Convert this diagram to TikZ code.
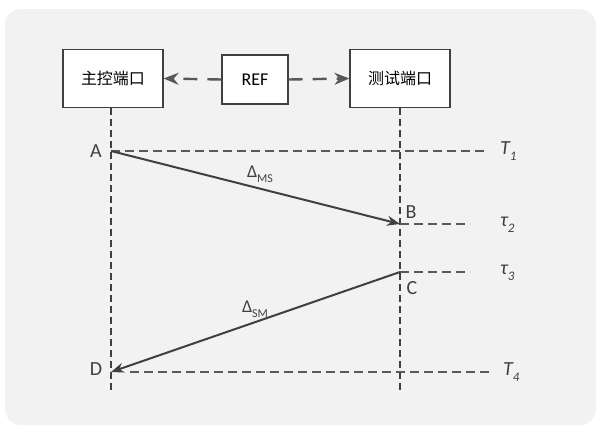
\documentclass[tikz,border=0pt]{standalone}
\usepackage{fontspec}
\setmainfont{Carlito}
\newfontfamily\cjk{Noto Sans CJK SC}
\usetikzlibrary{arrows.meta}
\definecolor{panel}{HTML}{F2F2F2}
\definecolor{ink}{HTML}{404040}
\definecolor{guide}{HTML}{595959}
% subscript set a little larger than the default
\newcommand{\lowidx}[2][13]{\raisebox{-0.28em}{\fontsize{#1}{#1}\selectfont #2}}
\tikzset{
  port/.style={draw=ink, line width=1.2pt, fill=white, minimum width=100pt, minimum height=58pt, inner sep=0pt, font=\cjk\fontsize{16}{16}\selectfont},
  refbox/.style={draw=ink, line width=1.2pt, fill=white, minimum width=66pt, minimum height=49pt, inner sep=0pt, font=\fontsize{18}{18}\selectfont},
  lifeline/.style={draw=ink, line width=1.2pt, dash pattern=on 7pt off 4pt},
  level/.style={draw=guide, line width=1.3pt, dash pattern=on 9pt off 5pt},
  msg/.style={draw=ink, line width=2pt, -{Stealth[length=13pt, width=10pt]}},
  refarrow/.style={draw=guide, line width=2.4pt, dash pattern=on 14pt off 10pt, -{Stealth[length=15pt, width=12pt]}},
  pt/.style={font=\fontsize{20}{20}\selectfont, text=ink, inner sep=0pt},
  tlabel/.style={font=\itshape\fontsize{20}{20}\selectfont, text=ink, inner sep=0pt, anchor=west},
  dlabel/.style={font=\fontsize{18}{18}\selectfont, text=ink, inner sep=0pt}
}
\begin{document}
\begin{tikzpicture}[x=1pt, y=-1pt]
  \useasboundingbox (0,0) rectangle (598,429);
  \fill[panel, rounded corners=16pt] (5,9) rectangle (596,425);

  % ports and the reference
  \node[port] (master) at (113,78.5) {主控端口};
  \node[port] (tester) at (400,78.5) {测试端口};
  \node[refbox] (ref) at (255,79.5) {REF};
  \draw[refarrow] (ref.west) -- (master.east);
  \draw[refarrow] (ref.east) -- (tester.west);

  % event points on the lifelines
  \coordinate (A) at (111,151);
  \coordinate (B) at (400,224);
  \coordinate (C) at (400,272);
  \coordinate (D) at (111,372);
  \coordinate (mEnd) at (111,392);
  \coordinate (tEnd) at (400,392);

  % lifelines
  \draw[lifeline] (master.south -| A) -- (mEnd);
  \draw[lifeline] (tester.south) -- (tEnd);

  % time levels
  \coordinate (T1e) at (487,151);
  \coordinate (T2e) at (470,224);
  \coordinate (T3e) at (470,272);
  \coordinate (T4s) at (130,372);
  \coordinate (T4e) at (490,372);
  \draw[level] (A) -- (T1e);
  \draw[level] (B) -- (T2e);
  \draw[level] (C) -- (T3e);
  \draw[level] (T4s) -- (T4e);

  % messages
  \draw[msg] (A) -- (B);
  \draw[msg] (C) -- (D);

  % labels
  \node[pt] (lA) at (96,151) {A};
  \node[pt] (lB) at (411,212) {B};
  \node[pt] (lC) at (412,288) {C};
  \node[pt] (lD) at (96,369) {D};
  \node[tlabel] (t1) at (500,151) {T\lowidx{1}};
  \node[tlabel] (t2) at (500,225) {τ\lowidx{2}};
  \node[tlabel] (t3) at (500,273) {τ\lowidx{3}};
  \node[tlabel] (t4) at (503,372) {T\lowidx{4}};
  \node[dlabel] (dms) at (260,174) {Δ\lowidx[12]{MS}};
  \node[dlabel] (dsm) at (255,309) {Δ\lowidx[12]{SM}};
\end{tikzpicture}
\end{document}
